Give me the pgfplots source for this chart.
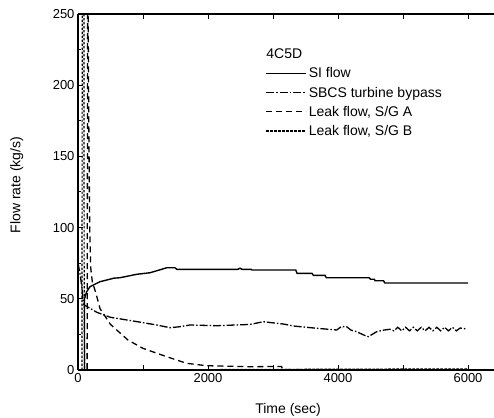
\documentclass[border=0pt]{standalone}
\usepackage{fontspec}
\setmainfont{Liberation Sans}
\usepackage{pgfplots}
\pgfplotsset{compat=1.18}

\begin{document}
\begin{tikzpicture}
\begin{axis}[
    scale only axis,
    width=416pt, height=356pt,
    xmin=0, xmax=6400, ymin=0, ymax=250,
    axis y line*=left,
    tick align=inside,
    xtick={0,1000,...,6000},
    xticklabels={0,,2000,,4000,,6000},
    ytick={0,50,...,250},
    minor ytick={25,75,...,225},
    major tick length=5pt, minor tick length=2.5pt,
    every tick/.style={line width=1pt, black},
    axis line style={line width=1.2pt},
    tick label style={font=\fontsize{13}{15}\selectfont},
    /pgf/number format/assume math mode=true,
    /pgf/number format/1000 sep={},
    xlabel={Time (sec)},
    ylabel={Flow rate (kg/s)},
    label style={font=\fontsize{14}{16}\selectfont},
    xlabel style={at={(axis description cs:0.505,-0.112)}, anchor=center},
    ylabel style={at={(axis description cs:-0.147,0.52)}, anchor=center},
    legend cell align=left,
    legend style={draw=none, fill=none, at={(0.45,0.908)}, anchor=north west,
        font=\fontsize{14}{16}\selectfont, row sep=3.5pt,
        inner sep=0pt},
    legend image code/.code={\draw[#1] (0pt,0pt) -- (40pt,0pt);},
    clip=true,
]
\addlegendimage{empty legend}
\addlegendentry{\hspace{-46pt}4C5D}

% SI flow
\addplot[black, line width=1.4pt] coordinates {
(0,0) (100,0) (100,50) (133,55) (185,58.5) (338,62) (554,64.5) (646,64.8)
(903,67.2) (1108,68.3) (1287,70.7) (1364,71.8) (1492,71.8) (1518,70.7)
(2460,70.7) (2492,71.5) (2525,70.7) (2660,70.7) (2680,70.2) (3350,70.2)
(3370,67.9) (3600,67.9) (3620,66.5) (3800,66.5) (3820,64.8) (4480,64.8)
(4500,63.7) (4560,63.7) (4570,62.7) (4700,62.7) (4720,61.1) (6000,61.1)
};
\addlegendentry{SI flow}

% SBCS turbine bypass
\addplot[black, line width=1.3pt, dash pattern=on 8pt off 2pt on 1.5pt off 2pt] coordinates {
(0,75) (30,68) (60,58) (85,46) (290,40.5) (500,37) (903,34) (1211,31.6)
(1415,29.7) (1569,30.4) (1723,31.6) (2134,31.1) (2646,32) (2851,33.9)
(3159,32.3) (3313,30.9) (3672,29.3) (3980,28.1) (4050,30.5) (4133,30.4)
(4200,28) (4287,26.9) (4400,24.5) (4467,23.4) (4595,26.9) (4700,28)
(4800,28.6) (4860,27.5) (4920,30) (4980,27.5) (5040,30) (5100,27.5)
(5160,30) (5220,27.5) (5280,30) (5340,27.5) (5400,30) (5460,27.5)
(5520,30) (5580,27.5) (5640,30) (5700,27.5) (5760,30) (5820,27.5)
(5880,29.5) (5980,28.8)
};
\addlegendentry{SBCS turbine bypass}

% Leak flow, S/G A
\addplot[black, line width=1.3pt, dash pattern=on 6pt off 4pt] coordinates {
(0,0) (140,0) (150,300) (165,180) (180,100) (195,72) (220,62) (275,54)
(340,43) (500,32) (770,21) (1000,15.2) (1360,9.4) (1670,4.7) (1980,3)
(2650,2.3) (3130,2.5) (3150,0.4) (6000,0.4)
};
\addlegendentry{Leak flow, S/G A}

% Leak flow, S/G B
\addplot[black, line width=1.2pt, dash pattern=on 2.5pt off 1.5pt] coordinates {
(0,0) (62,0) (65,300) (90,300) (95,55) (100,0) (6000,0.8)
};
\addlegendentry{Leak flow, S/G B}
\end{axis}
\pgfresetboundingbox
\path[use as bounding box] (-78pt,-47pt) rectangle (416pt,370pt);
\end{tikzpicture}
\end{document}
